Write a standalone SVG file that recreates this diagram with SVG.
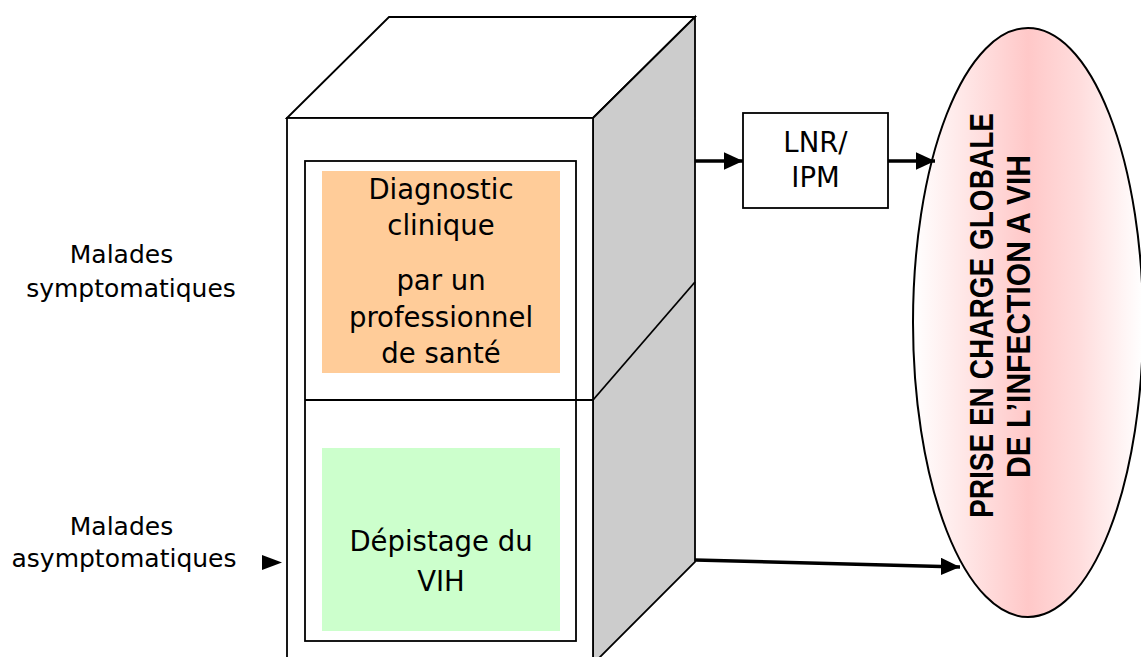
<svg xmlns="http://www.w3.org/2000/svg" width="1141" height="657" viewBox="0 0 1141 657">
<defs>
<linearGradient id="pink" x1="0" y1="0" x2="1" y2="0">
<stop offset="0" stop-color="#FFFFFF"/>
<stop offset="0.3" stop-color="#FFDEDE"/>
<stop offset="0.5" stop-color="#FFC8C8"/>
<stop offset="0.72" stop-color="#FFDCDC"/>
<stop offset="1" stop-color="#FFFFFF"/>
</linearGradient>
<marker id="ah" viewBox="0 0 10 10" refX="10" refY="5" markerWidth="5.5" markerHeight="5" markerUnits="strokeWidth" orient="auto" preserveAspectRatio="none">
<path d="M0,0 L10,5 L0,10 z" fill="#000"/>
</marker>
</defs>
<style>
.ln{stroke:#000;stroke-width:1.8;fill:none}
.t{font-family:"DejaVu Sans","Liberation Sans",sans-serif;fill:#000;text-anchor:middle}
.e{font-family:"Liberation Sans Narrow","Liberation Sans",sans-serif;font-weight:bold;font-size:34px;fill:#000;text-anchor:middle}
.arr{stroke:#000;stroke-width:3.5;fill:none;marker-end:url(#ah)}
</style>
<rect x="0" y="0" width="1141" height="657" fill="#fff"/>

<g id="cube">
<polygon points="287,118 389,17 695,17 593,118" fill="#fff" stroke="#000" stroke-width="1.8"/>
<polygon points="593,118 695,17 695,562 593,664" fill="#CCCCCC" stroke="#000" stroke-width="1.8"/>
<rect x="287" y="118" width="306" height="600" fill="#fff" stroke="#000" stroke-width="1.8"/>
<line class="ln" x1="593" y1="400" x2="695" y2="282"/>
<rect x="305" y="161" width="271" height="480" class="ln"/>
<line class="ln" x1="305" y1="400" x2="593" y2="400"/>
</g>

<g id="diagnostic">
<rect x="322" y="171" width="238" height="202" fill="#FFCC99"/>
<text class="t" font-size="27.5" x="441" y="199">Diagnostic</text>
<text class="t" font-size="27.5" x="441" y="235">clinique</text>
<text class="t" font-size="27.5" x="441" y="290">par un</text>
<text class="t" font-size="27.5" x="441" y="327">professionnel</text>
<text class="t" font-size="27.5" x="441" y="363">de santé</text>
</g>

<g id="depistage">
<rect x="322" y="448" width="238" height="183" fill="#CCFFCC"/>
<text class="t" font-size="27.5" x="441" y="551">Dépistage du</text>
<text class="t" font-size="27.5" x="441" y="591">VIH</text>
</g>

<g id="symptomatiques">
<text class="t" font-size="25" x="121.5" y="263">Malades</text>
<text class="t" font-size="25" x="131" y="297">symptomatiques</text>
</g>

<g id="asymptomatiques">
<text class="t" font-size="25" x="121.5" y="535">Malades</text>
<text class="t" font-size="25" x="124" y="567">asymptomatiques</text>
<polygon points="262,555 282,562.5 262,570" fill="#000"/>
</g>

<g id="lnr">
<rect x="743" y="113" width="145" height="95" fill="#fff" stroke="#000" stroke-width="1.8"/>
<text class="t" font-size="27.5" x="815.5" y="152">LNR/</text>
<text class="t" font-size="27.5" x="815.5" y="187">IPM</text>
</g>

<g id="prise">
<ellipse cx="1028" cy="322.5" rx="115" ry="294.5" fill="url(#pink)" stroke="#000" stroke-width="2"/>
<text class="e" transform="translate(993,315.5) rotate(-90)" textLength="405" lengthAdjust="spacingAndGlyphs">PRISE EN CHARGE GLOBALE</text>
<text class="e" transform="translate(1030,316.5) rotate(-90)" textLength="323" lengthAdjust="spacingAndGlyphs">DE L’INFECTION A VIH</text>
</g>

<g id="connectors">
<line class="arr" x1="695" y1="161" x2="743" y2="161"/>
<line class="arr" x1="888" y1="161" x2="935" y2="161"/>
<line class="arr" x1="695" y1="560" x2="960" y2="567"/>
</g>
</svg>
